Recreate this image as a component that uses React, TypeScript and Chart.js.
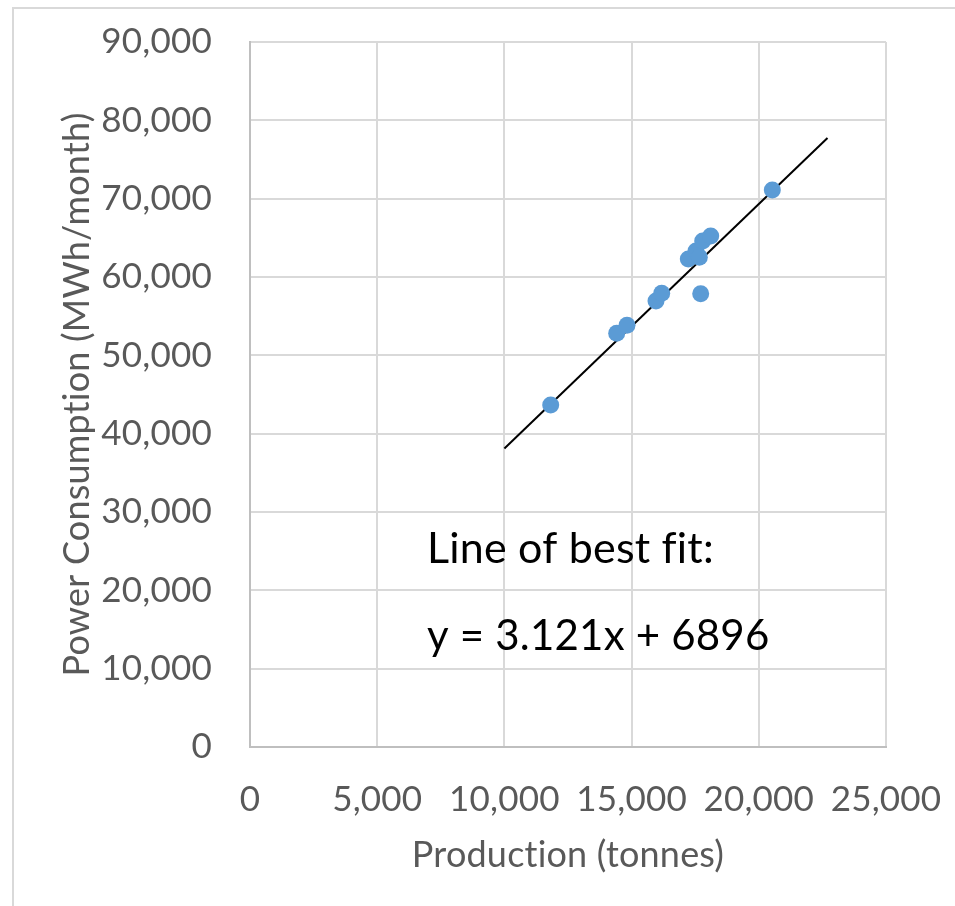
import React, { useEffect, useRef } from "react";
import { Chart, registerables } from "chart.js";

Chart.register(...registerables);

const productionTonnes = [11820, 14414, 14819, 15959, 16183, 17716, 17229, 17531, 17662, 17795, 18110, 20531];
const powerMWh = [43662, 52815, 53836, 56938, 57921, 57870, 62300, 63322, 62517, 64598, 65236, 71110];
const trendX = [10000, 22700];
const trendY = [38106, 77744];
const xMin = 0, xMax = 25000, xStep = 5000;
const yMin = 0, yMax = 90000, yStep = 10000;
const xTitle = "Production (tonnes)";
const yTitle = "Power Consumption (MWh/month)";
const annotationLines = ["Line of best fit:", "y = 3.121x + 6896"];

const FONT = "Lato, 'Open Sans', sans-serif";

const noLigaturePlugin = {
  id: "noLig",
  beforeDraw(chart: any) {
    try {
      (chart.ctx as any).letterSpacing = "0.2px";
    } catch (e) {}
  },
};

const annotationPlugin = {
  id: "fitText",
  afterDraw(chart: any) {
    const { ctx, chartArea } = chart;
    ctx.save();
    try {
      (ctx as any).letterSpacing = "0.2px";
    } catch (e) {}
    ctx.fillStyle = "#000000";
    ctx.textAlign = "left";
    ctx.textBaseline = "alphabetic";
    ctx.font = `43px ${FONT}`;
    ctx.fillText(annotationLines[0], chartArea.left + 177, 563);
    ctx.font = `42px ${FONT}`;
    ctx.fillText(annotationLines[1], chartArea.left + 177, 650);
    ctx.restore();
  },
};

export default function App() {
  const ref = useRef<HTMLCanvasElement | null>(null);
  useEffect(() => {
    if (!ref.current) return;
    const fmt = (v: any) => Number(v).toLocaleString("en-US");
    const chart = new Chart(ref.current, {
      type: "scatter",
      data: {
        datasets: [
          {
            label: "Data",
            data: productionTonnes.map((x, i) => ({ x, y: powerMWh[i] })),
            backgroundColor: "#5B9BD5",
            borderColor: "#5B9BD5",
            borderWidth: 0,
            pointRadius: 8.5,
            order: 1,
          },
          {
            label: "Trend",
            type: "line",
            data: trendX.map((x, i) => ({ x, y: trendY[i] })),
            borderColor: "#000000",
            borderWidth: 2,
            pointRadius: 0,
            fill: false,
            order: 2,
          } as any,
        ],
      },
      options: {
        responsive: false,
        animation: false,
        layout: { padding: { left: 0, top: 42, right: 69, bottom: 0 } },
        plugins: { legend: { display: false }, tooltip: { enabled: false } },
        scales: {
          x: {
            type: "linear",
            min: xMin,
            max: xMax,
            ticks: {
              stepSize: xStep,
              callback: fmt,
              color: "#595959",
              font: { family: FONT, size: 35 },
              padding: 32,
              maxRotation: 0,
            },
            grid: { color: "#d9d9d9", lineWidth: 2, drawTicks: false },
            border: { color: "#bfbfbf", width: 2 },
            title: {
              display: true,
              text: xTitle,
              color: "#595959",
              font: { family: FONT, size: 36 },
              padding: { top: 0, bottom: 29 },
            },
            afterFit(scale: any) {
              scale.height = 159;
              scale.paddingLeft = 0;
              scale.paddingRight = 0;
            },
          },
          y: {
            type: "linear",
            min: yMin,
            max: yMax,
            ticks: {
              stepSize: yStep,
              callback: fmt,
              color: "#595959",
              font: { family: FONT, size: 35 },
              padding: 38,
            },
            grid: { color: "#d9d9d9", lineWidth: 2, drawTicks: false },
            border: { color: "#bfbfbf", width: 2 },
            title: {
              display: true,
              text: yTitle,
              color: "#595959",
              font: { family: FONT, size: 36 },
              padding: { top: 56, bottom: 0 },
            },
            afterFit(scale: any) {
              scale.width = 250;
              scale.paddingTop = 0;
              scale.paddingBottom = 0;
            },
          },
        },
      },
      plugins: [noLigaturePlugin, annotationPlugin],
    });
    return () => chart.destroy();
  }, []);

  return (
    <div style={{ position: "fixed", left: 0, top: 0, width: 955, height: 906, background: "#ffffff", overflow: "hidden" }}>
      <div
        style={{
          position: "absolute",
          left: 12,
          top: 7,
          width: 2000,
          height: 2000,
          borderTop: "2px solid #d9d9d9",
          borderLeft: "2px solid #d9d9d9",
        }}
      />
      <canvas ref={ref} width={955} height={906} style={{ position: "absolute", left: 0, top: 0 }} />
    </div>
  );
}
